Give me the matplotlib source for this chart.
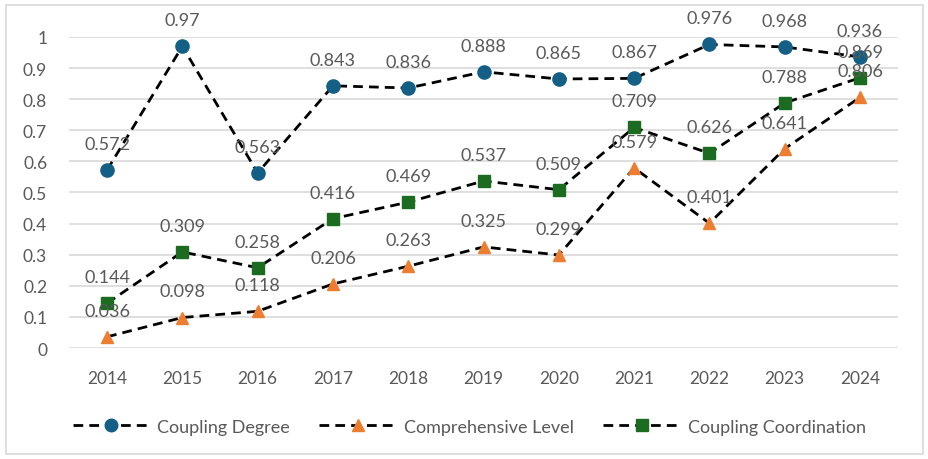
import matplotlib.pyplot as plt
from matplotlib.patches import Rectangle

# Data for plotting
years = ['2014', '2015', '2016', '2017', '2018', '2019', '2020', '2021', '2022', '2023', '2024']
coupling_degree = [0.572, 0.97, 0.563, 0.843, 0.836, 0.888, 0.865, 0.867, 0.976, 0.968, 0.936]
comprehensive_level = [0.036, 0.098, 0.118, 0.206, 0.263, 0.325, 0.299, 0.579, 0.401, 0.641, 0.806]
coupling_coord = [0.144, 0.309, 0.258, 0.416, 0.469, 0.537, 0.509, 0.709, 0.626, 0.788, 0.869]

plt.rcParams['font.family'] = ['Lato', 'DejaVu Sans']
grey = '#595959'

fig = plt.figure(figsize=(9.29, 4.60), dpi=100)
ax = fig.add_axes([0.0747, 0.2413, 0.8916, 0.6761])

x = range(len(years))
series = [
    (coupling_degree, 'Coupling Degree', 'o', '#145F86', 9.5),
    (comprehensive_level, 'Comprehensive Level', '^', '#ED7D31', 9.0),
    (coupling_coord, 'Coupling Coordination', 's', '#1B6B20', 8.5),
]
for vals, name, mk, col, ms in series:
    ax.plot(x, vals, color='black', linestyle=(0, (3.5, 2.2)), linewidth=2.0,
            marker=mk, markersize=ms, markerfacecolor=col, markeredgecolor=col,
            label=name, zorder=3)
    for i, v in enumerate(vals):
        ax.annotate(f'{v:g}', (i, v), xytext=(0, 13), textcoords='offset points',
                    ha='center', va='bottom', fontsize=13, color=grey, zorder=4)

ax.set_xlim(-0.5, len(years) - 0.5)
ax.set_ylim(0, 1)
ax.set_yticks([i / 10 for i in range(11)])
ax.set_yticklabels(['0', '0.1', '0.2', '0.3', '0.4', '0.5', '0.6', '0.7', '0.8', '0.9', '1'])
ax.set_xticks(list(x))
ax.set_xticklabels(years)
ax.tick_params(axis='both', length=0, labelsize=12.5, colors=grey)
ax.tick_params(axis='x', pad=16)
ax.tick_params(axis='y', pad=16)
ax.grid(axis='y', color='#D9D9D9', linewidth=1.2)
ax.set_axisbelow(True)
for s in ax.spines.values():
    s.set_visible(False)

leg = fig.legend(loc='center', bbox_to_anchor=(0.505, 0.07), ncol=3, frameon=False,
                 fontsize=13, handlelength=4.3, columnspacing=1.6, handletextpad=0.4,
                 markerscale=0.95)
for t in leg.get_texts():
    t.set_color(grey)

fig.patches.append(Rectangle((0.006, 0.01), 0.988, 0.978, transform=fig.transFigure,
                             fill=False, edgecolor='#D9D9D9', linewidth=1.2))

fig.savefig('out.png', dpi=100)
